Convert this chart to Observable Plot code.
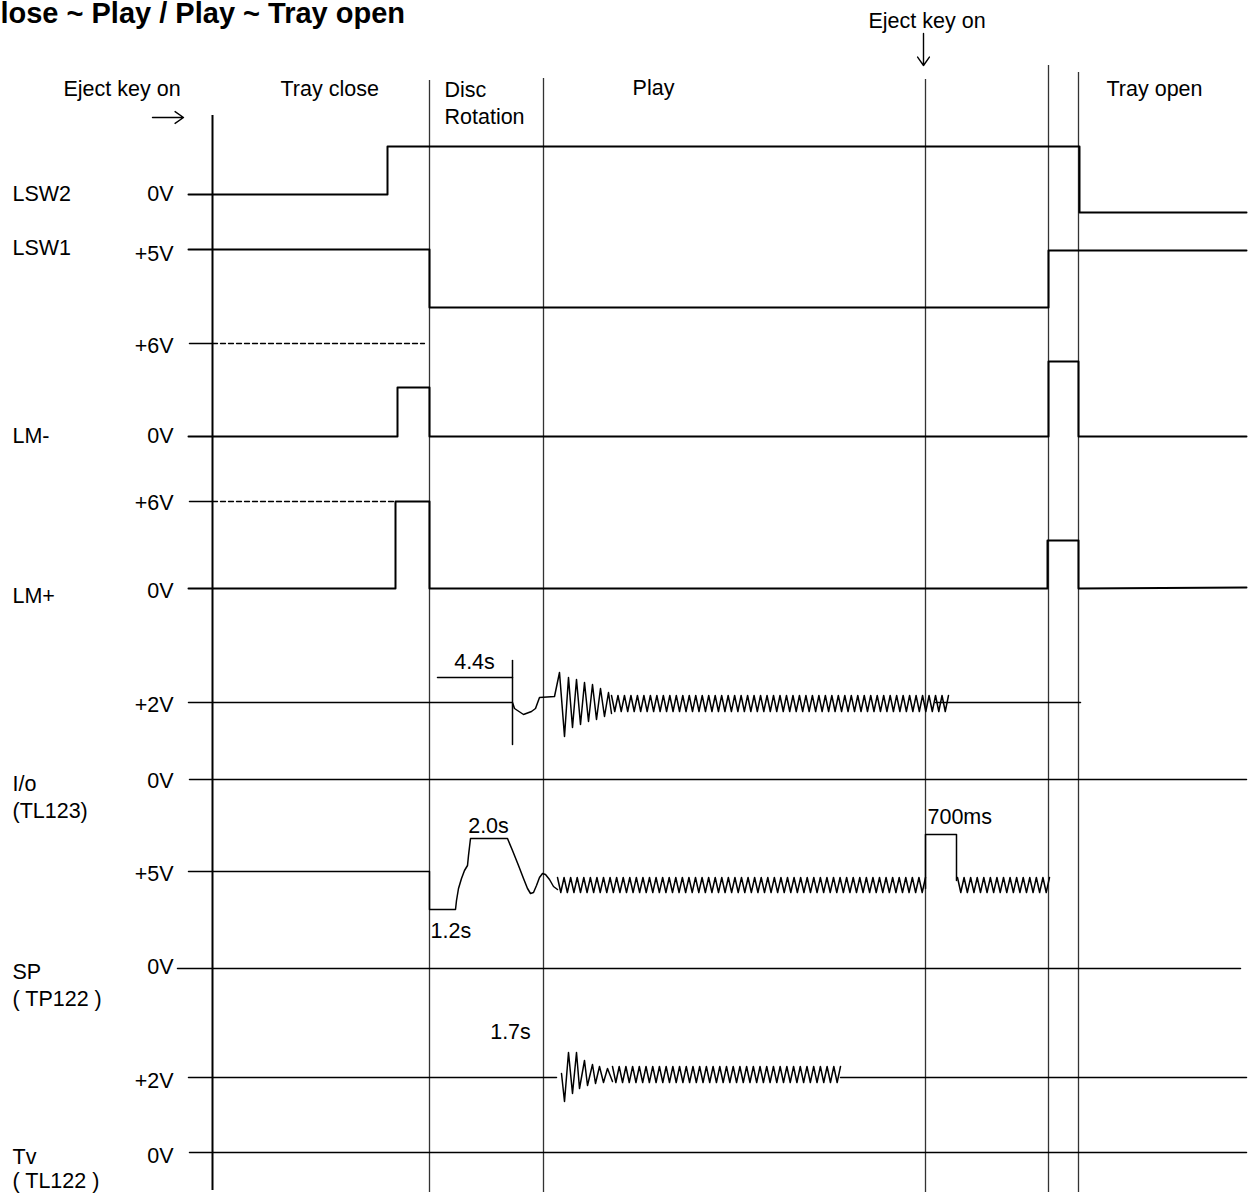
<!DOCTYPE html>
<html><head><meta charset="utf-8">
<script src="https://cdn.jsdelivr.net/npm/d3@7"></script>
<script src="https://cdn.jsdelivr.net/npm/@observablehq/plot@0.6"></script>
<style>html,body{margin:0;padding:0;background:#fff;overflow:hidden}</style>
</head><body><div id="chart"></div>
<script>
// ---------- text content ----------
const titleText = "Close ~ Play / Play ~ Tray open";

const phaseLabels = ["Eject key on", "Tray close", "Disc", "Rotation", "Play", "Tray open", "Eject key on"];
const phaseT      = [63, 280, 444, 444, 653, 1106, 868];
const phaseBase   = [95, 95, 96, 123, 94, 95, 27];
const phaseAnchor = ["start", "start", "start", "start", "middle", "start", "start"];

const channelNames = ["LSW2", "LSW1", "LM-", "LM+", "I/o", "(TL123)", "SP", "( TP122 )", "Tv", "( TL122 )"];
const channelBase  = [200, 254, 442, 602, 790, 817, 978, 1005, 1163, 1187];

const levelLabels = ["0V", "+5V", "+6V", "0V", "+6V", "0V", "+2V", "0V", "+5V", "0V", "+2V", "0V"];
const levelBase   = [200, 260, 352, 442, 509, 597, 711, 787, 880, 973, 1087, 1162];

const noteLabels = ["4.4s", "2.0s", "1.2s", "700ms", "1.7s"];
const noteT      = [474, 488, 430, 927, 510];
const noteBase   = [668, 832, 937, 823, 1038];
const noteAnchor = ["middle", "middle", "start", "start", "middle"];

// ---------- time markers ----------
const markerT   = [429, 543, 925, 1048, 1078];
const markerTop = [80, 78, 79, 65, 72];
const markerEnd = 1192;
const axisT = 212, axisTop = 115, axisEnd = 1190;

// ---------- reference levels ----------
const refLines = [
  [[189, 779], [1246, 779]],   // I/o 0V
  [[177, 968], [1240, 968]],   // SP 0V
  [[189, 1152], [1246, 1152]], // Tv 0V
  [[189, 343], [212, 343]],    // +6V stub
  [[189, 501], [212, 501]]     // +6V stub
];
const dashedLines = [
  [[212, 343], [424, 343]],
  [[212, 501], [395, 501]]
];

// ---------- digital waveforms ----------
const lsw2 = [[188, 194], [387, 194], [387, 146], [1079, 146], [1079, 212], [1246, 212]];
const lsw1 = [[188, 249], [429, 249], [429, 307], [1048, 307], [1048, 250], [1246, 250]];
const lmMinus = [[188, 436], [397, 436], [397, 387], [429, 387], [429, 436], [1046, 436],
                 [1048, 436], [1048, 361], [1078, 361], [1078, 436], [1246, 436]];
const lmPlus = [[188, 588], [395, 588], [395, 501], [429, 501], [429, 588], [1047, 588],
                [1047, 540], [1078, 540], [1078, 588], [1246, 587]];

// ---------- analog waveforms (point lists + ripple segments) ----------
const ioPath = [
  {pts: [[188, 702], [512, 702], [514, 708], [523, 714], [531, 711], [535, 708], [539, 697], [554, 696],
         [559, 672], [564, 736], [568, 677], [572, 727], [576, 679], [580, 724], [584, 682], [588, 721],
         [592, 684], [596, 719], [600, 688], [604, 716], [608, 692], [611, 713]]},
  {ripple: {from: 611, to: 948, cycles: 52, top: 695, bottom: 711}},
  {pts: [[935, 702], [1080, 702]]}
];
const spPath = [
  {pts: [[188, 871], [429, 871], [429, 909], [455, 909], [456, 900], [458, 888], [461, 878], [464, 870],
         [467, 865], [468, 855], [470, 838], [507, 838], [512, 850], [518, 865], [523, 878], [527, 888],
         [530, 893], [533, 892], [536, 885], [539, 877], [542, 873], [545, 874], [549, 879], [553, 886],
         [557, 889]]},
  {ripple: {from: 557, to: 925, cycles: 56, top: 877, bottom: 892}},
  {pts: [[925, 888], [925, 834], [956, 834], [956, 880]]},
  {ripple: {from: 957, to: 1049, cycles: 14, top: 877, bottom: 892}}
];
const tvPath = [
  {pts: [[188, 1077], [556, 1077]]},
  {pts: [[561, 1073], [564, 1101], [568, 1052], [572, 1093], [576, 1052], [579, 1088], [584, 1060],
         [587, 1085], [592, 1064], [595, 1083], [599, 1066], [603, 1082], [607, 1068], [612, 1081]]},
  {ripple: {from: 612, to: 840, cycles: 34, top: 1066, bottom: 1082}},
  {pts: [[840, 1077], [1246, 1077]]}
];

// 4.4s bracket
const bracket = [
  [[437, 677], [512, 677]],
  [[512, 660], [512, 744]]
];

// ---------- build rows ----------
function toRows(pts, id) { return pts.map(([t, v]) => ({t, v, id})); }
function pathRows(path, name) {
  const rows = [];
  path.forEach((seg, k) => {
    const id = name + "-" + k;
    if (seg.pts) rows.push(...toRows(seg.pts, id));
    else {
      const r = seg.ripple, n = r.cycles * 2;
      for (let i = 0; i <= n; i++) {
        rows.push({t: r.from + (r.to - r.from) * i / n, v: i % 2 === 0 ? r.top : r.bottom, id});
      }
    }
  });
  return rows;
}

const digitalRows = [
  ...toRows(lsw2, "lsw2"), ...toRows(lsw1, "lsw1"),
  ...toRows(lmMinus, "lmm"), ...toRows(lmPlus, "lmp")
];
const analogRows = [...pathRows(ioPath, "io"), ...pathRows(spPath, "sp"), ...pathRows(tvPath, "tv")];
const refRows = refLines.flatMap((l, i) => toRows(l, "ref" + i));
const dashRows = dashedLines.flatMap((l, i) => toRows(l, "dash" + i));
const bracketRows = bracket.flatMap((l, i) => toRows(l, "br" + i));

const markers = markerT.map((t, i) => ({t, top: markerTop[i], end: markerEnd}));
const phases = phaseLabels.map((s, i) => ({s, t: phaseT[i], b: phaseBase[i], a: phaseAnchor[i]}));
const channels = channelNames.map((s, i) => ({s, b: channelBase[i]}));
const levels = levelLabels.map((s, i) => ({s, b: levelBase[i]}));
const notes = noteLabels.map((s, i) => ({s, t: noteT[i], b: noteBase[i], a: noteAnchor[i]}));
const annots = [...phases, ...notes];

const FS = 21.5;
const font = "'Liberation Sans', Arial, Helvetica, sans-serif";

const chart = Plot.plot({
  width: 1249, height: 1199,
  margin: 0,
  x: {domain: [0, 1249], range: [0, 1249], axis: null},
  y: {domain: [0, 1199], range: [0, 1199], axis: null},
  style: {fontFamily: font, background: "#fff", overflow: "hidden"},
  marks: [
    // time markers
    Plot.ruleX(markers, {x: "t", y1: "top", y2: "end", stroke: "#333", strokeWidth: 1.3}),
    // time axis
    Plot.ruleX([axisT], {y1: axisTop, y2: axisEnd, stroke: "#000", strokeWidth: 2}),
    // reference levels
    Plot.line(refRows, {x: "t", y: "v", z: "id", stroke: "#000", strokeWidth: 1.5}),
    Plot.line(dashRows, {x: "t", y: "v", z: "id", stroke: "#000", strokeWidth: 1.3, strokeDasharray: "5,3"}),
    // waveforms
    Plot.line(digitalRows, {x: "t", y: "v", z: "id", stroke: "#000", strokeWidth: 2, curve: "linear"}),
    Plot.line(analogRows, {x: "t", y: "v", z: "id", stroke: "#000", strokeWidth: 1.5, curve: "linear"}),
    Plot.line(bracketRows, {x: "t", y: "v", z: "id", stroke: "#000", strokeWidth: 1.5}),
    // arrows
    Plot.arrow([{x1: 152, y1: 117, x2: 183, y2: 117}, {x1: 923, y1: 33, x2: 923, y2: 65}],
      {x1: "x1", y1: "y1", x2: "x2", y2: "y2", stroke: "#000", strokeWidth: 1.4, headLength: 11, headAngle: 70}),
    // title (its first letter runs off the left edge, as in the reference)
    Plot.text([titleText], {x: -21, y: 22, text: d => d, textAnchor: "start", lineAnchor: "bottom",
      fontSize: 29, fontWeight: "bold", fill: "#000"}),
    // phase labels and timing notes
    Plot.text(annots.filter(d => d.a === "start"), {x: "t", y: "b", text: "s", textAnchor: "start", lineAnchor: "bottom", fontSize: FS, fill: "#000"}),
    Plot.text(annots.filter(d => d.a === "middle"), {x: "t", y: "b", text: "s", textAnchor: "middle", lineAnchor: "bottom", fontSize: FS, fill: "#000"}),
    // channel names
    Plot.text(channels, {x: 12, y: "b", text: "s", textAnchor: "start", lineAnchor: "bottom", fontSize: FS, fill: "#000"}),
    // level labels
    Plot.text(levels, {x: 173, y: "b", text: "s", textAnchor: "end", lineAnchor: "bottom", fontSize: FS, fill: "#000"})
  ]
});
document.getElementById("chart").appendChild(chart);
</script></body></html>
